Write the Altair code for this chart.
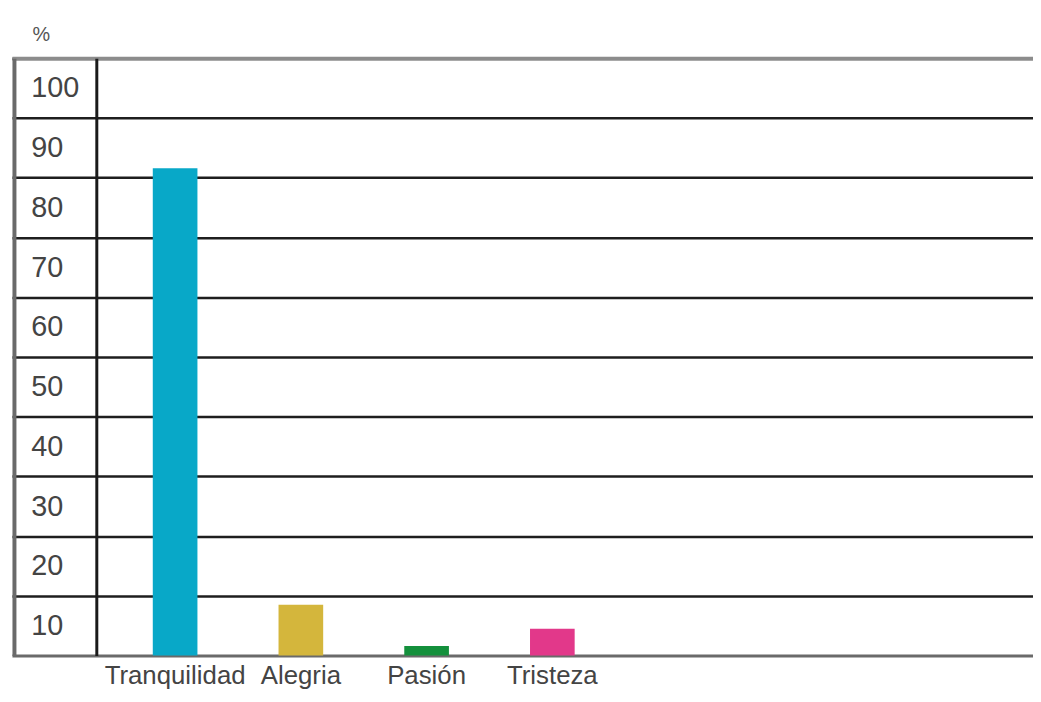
import altair as alt
import pandas as pd

# Data
categories = ["Tranquilidad", "Alegria", "Pasión", "Tristeza"]
values = [81.6, 8.5, 1.6, 4.5]
bar_colors = ["#08a8c8", "#d4b63c", "#14903c", "#e2388a"]
y_ticks = [10, 20, 30, 40, 50, 60, 70, 80, 90, 100]
# empty slots to the right of the four bars (the chart leaves that space blank)
empty_slots = [" ", "  ", "   "]

df = pd.DataFrame({"cat": categories, "val": values, "color": bar_colors})

W = 1029
H = 602
FONT = "Liberation Sans"

x_scale = alt.Scale(domain=categories + empty_slots, paddingInner=0,
                    paddingOuter=0.56, align=0.712)
y_scale = alt.Scale(domain=[0, 100], nice=False, zero=True)

bars = alt.Chart(df).mark_bar(size=45).encode(
    x=alt.X(
        "cat:N",
        scale=x_scale,
        sort=categories,
        axis=alt.Axis(
            title=None, orient="bottom", domainColor="#6a6a6a", domainWidth=3,
            ticks=False, tickSize=0, labelFont=FONT, labelFontSize=26,
            labelColor="#444444", labelPadding=7, labelAngle=0, grid=False,
        ),
    ),
    y=alt.Y(
        "val:Q",
        scale=y_scale,
        axis=alt.Axis(
            title=None, orient="left", offset=-85, values=y_ticks,
            domainColor="#1a1a1a", domainWidth=3,
            grid=True, gridColor="#1e1e1e", gridWidth=2.5, gridOpacity=1,
            ticks=False, tickSize=0, labelAlign="left", labelPadding=66,
            labelOffset=30, labelFlush=False, labelOverlap=False,
            labelBaseline="middle", labelFont=FONT, labelFontSize=29,
            labelColor="#444444",
        ),
    ),
    color=alt.Color("color:N", scale=None),
)

frame = alt.Chart(df).mark_bar(size=45, opacity=0).encode(
    x=alt.X(
        "cat:N",
        scale=x_scale,
        sort=categories,
        axis=alt.Axis(
            title=None, orient="top", domainColor="#8c8c8c", domainWidth=4,
            ticks=False, labels=False, grid=False,
        ),
    ),
    y=alt.Y(
        "val:Q",
        scale=y_scale,
        axis=alt.Axis(
            orient="left", offset=-2, domainColor="#6a6a6a", domainWidth=4,
            ticks=False, labels=False, grid=False,
            title="%", titleAngle=0, titleX=27, titleY=-24, titleAlign="center",
            titleBaseline="middle", titleFont=FONT, titleFontSize=20,
            titleFontWeight="normal", titleColor="#555555",
        ),
    ),
)

chart = (
    alt.layer(bars, frame)
    .resolve_axis(x="independent", y="independent")
    .properties(
        width=W,
        height=H,
        padding={"left": 4, "top": 48, "right": 0, "bottom": 32},
        autosize=alt.AutoSizeParams(type="none"),
        background="white",
    )
    .configure_view(stroke=None)
)

chart.save("out.html", embed_options={"renderer": "svg", "actions": False})
